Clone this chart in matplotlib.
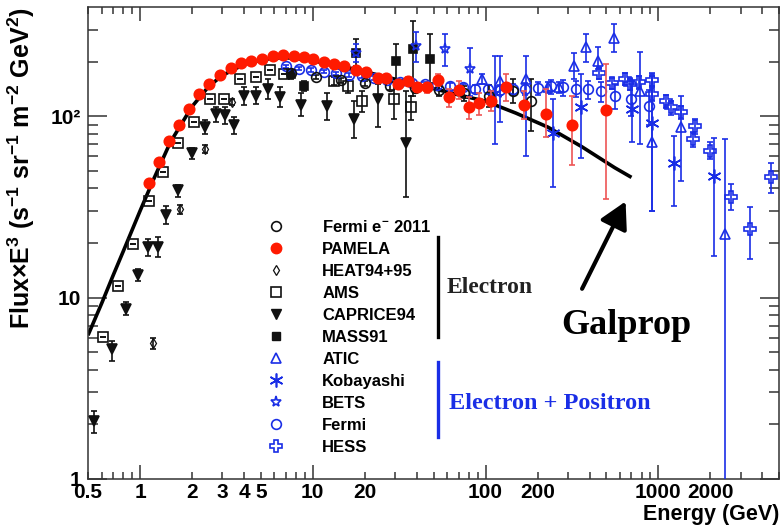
import matplotlib
matplotlib.use("Agg")
import matplotlib.pyplot as plt
import numpy as np
from matplotlib.lines import Line2D
from matplotlib.ticker import FixedLocator, FixedFormatter

plt.rcParams['font.family'] = ['Liberation Sans', 'DejaVu Sans']
plt.rcParams['font.weight'] = 'bold'
plt.rcParams['mathtext.fontset'] = 'custom'
plt.rcParams['mathtext.rm'] = 'Liberation Sans:bold'
plt.rcParams['mathtext.bf'] = 'Liberation Sans:bold'
plt.rcParams['mathtext.it'] = 'Liberation Sans:bold'

# ---------------- data: energy (GeV), E^3 x flux, error-bar ends ----------------
galprop_E = [0.5, 0.6, 0.7, 0.8, 1.0, 1.2, 1.5, 2.0, 2.5, 3.0, 4.0, 5.0, 6.0, 7.0,
             8.0, 10, 15, 20, 30, 50, 70, 100, 150, 230, 360, 560, 700]
galprop_F = [6.2, 9.3, 13.3, 18, 30, 45, 72, 113, 146, 168, 193, 204, 209, 210,
             208, 202, 188, 176, 160, 142, 131, 121, 104, 87, 68, 52, 46]

pamela_E = [1.13, 1.29, 1.47, 1.69, 1.93, 2.20, 2.52, 2.92, 3.38, 3.86, 4.42, 5.11,
            5.85, 6.77, 7.77, 8.86, 10.1, 11.6, 13.2, 15.1, 17.8, 20.3, 23.9, 26.6,
            31.2, 35.7, 40.2, 46.0, 53.3, 61.8, 70.6, 80.7, 92.3, 108, 132, 166,
            223, 316, 499]
pamela_F = [43, 56, 73, 90, 109, 132, 150, 168, 184, 196, 201, 206, 214, 217, 214,
            213, 206, 200, 193, 188, 180, 175, 162, 163, 150, 156, 144, 144, 158,
            127, 140, 112, 119, 122, 144, 116, 103, 89, 108]
pamela_lo = [42, 54, 71, 88, 106, 128, 146, 163, 179, 191, 196, 201, 209, 212, 209,
             207, 200, 194, 187, 182, 174, 169, 156, 157, 144, 148, 136, 135, 146,
             112, 124, 96, 102, 107, 121, 96, 77, 54, 35]
pamela_hi = [44, 58, 75, 92, 112, 136, 154, 173, 189, 201, 206, 211, 219, 222, 219,
             219, 212, 206, 199, 194, 186, 181, 168, 169, 156, 165, 152, 153, 170,
             141, 156, 127, 135, 138, 170, 138, 141, 129, 193]

ams_E = [0.612, 0.748, 0.914, 1.128, 1.366, 1.67, 2.06, 2.53, 3.08, 3.78, 4.72, 5.64,
         6.81, 13.3, 15.9, 19.4, 29.6, 36.8]
ams_F = [6.1, 11.6, 19.7, 34.1, 49, 71, 93, 125, 125, 161, 165, 179, 170, 156, 146,
         121, 125, 112]
ams_lo = [6.1, 11.6, 19.7, 34.1, 49, 71, 93, 125, 125, 161, 165, 179, 170, 148, 135,
          105, 96, 95]
ams_hi = [6.1, 11.6, 19.7, 34.1, 49, 71, 93, 125, 125, 161, 165, 179, 170, 164, 158,
          138, 154, 130]

caprice_E = [0.543, 0.685, 0.826, 0.97, 1.117, 1.267, 1.416, 1.67, 2.01, 2.385, 2.77,
             3.12, 3.49, 4.02, 4.72, 5.5, 6.5, 8.6, 12.07, 17.3, 23.9, 34.7]
caprice_F = [2.1, 5.2, 8.7, 13.3, 18.9, 18.9, 28.5, 39, 62.5, 87.3, 102.6, 101, 89,
             129, 130, 141, 127, 116, 114, 97, 124, 71]
caprice_lo = [1.79, 4.46, 8.0, 12.3, 17, 16.8, 25.5, 36, 58, 80, 93, 91, 80, 115, 117,
              125, 112, 100, 95, 76, 87, 36]
caprice_hi = [2.36, 5.8, 9.5, 14.3, 21, 21.5, 32, 42, 67, 95, 113, 112, 99, 145, 145,
              160, 145, 135, 135, 121, 150, 138]

heat_E = [1.195, 1.71, 2.39, 3.41]
heat_F = [5.6, 30.8, 66, 120]
heat_lo = [5.2, 29, 63, 115]
heat_hi = [6.0, 32.5, 69, 125]

mass_E = [7.45, 8.9, 17.8, 30.5, 38.0, 47.5]
mass_F = [170, 146, 224, 202, 236, 208]
mass_lo = [160, 137, 189, 147, 129, 153]
mass_hi = [180, 156, 265, 249, 335, 283]

fermi11_E = [7.5, 10.4, 14.5, 20, 28, 39, 54, 75, 105, 145, 183]
fermi11_F = [172, 165, 158, 152, 147, 143, 139, 134, 130, 138, 122]
fermi11_lo = [168, 161, 153, 147, 140, 135, 129, 122, 112, 118, 83]
fermi11_hi = [176, 169, 163, 157, 154, 151, 149, 146, 148, 160, 160]

atic_E = [95, 121, 171, 229, 268, 324, 381, 448, 552, 779, 914, 1361, 2430]
atic_F = [160, 156, 160, 144, 144, 189, 242, 202, 271, 138, 72, 87, 22.5]
atic_lo = [150, 93, 60, 134, 134, 160, 198, 181, 225, 70, 30, 44, 0.5]
atic_hi = [170, 214, 214, 155, 155, 224, 283, 240, 321, 225, 167, 129, 75]

kobayashi_E = [113, 245, 355, 706, 914, 1239, 2106]
kobayashi_F = [135, 81, 112, 110, 92, 55, 47]
kobayashi_lo = [70, 40.6, 59, 72, 30, 32, 17]
kobayashi_hi = [214, 124, 170, 156, 167, 78, 76]

bets_E = [17.8, 39.8, 58, 81]
bets_F = [224, 244, 234, 181]
bets_lo = [200, 200, 189, 129]
bets_hi = [250, 290, 283, 239]

fermi_E = [7.0, 8.3, 9.8, 11.6, 13.7, 16.2, 19.2, 22.7, 26.9, 31.8, 37.6, 44.5, 52.6,
           62.2, 73.6, 87.0, 103, 122, 144, 170, 201, 238, 281, 333, 394, 466, 565,
           700, 883]
fermi_F = [188, 183, 180, 176, 172, 169, 166, 162, 158, 155, 152, 150, 148, 146, 144,
           142, 141, 140, 141, 142, 143, 146, 144, 142, 141, 137, 129, 125, 114]
fermi_lo = [184, 179, 176, 172, 168, 165, 162, 158, 154, 151, 148, 145, 143, 140, 138,
            135, 133, 131, 131, 131, 131, 133, 130, 127, 125, 120, 110, 100, 90]
fermi_hi = [192, 187, 184, 180, 176, 173, 170, 166, 162, 159, 156, 155, 153, 152, 150,
            149, 149, 149, 151, 153, 155, 159, 158, 157, 157, 155, 150, 150, 140]

hess_E = [452, 540, 645, 690, 774, 914, 920, 1104, 1193, 1360, 1585, 1630, 2000,
          2630, 3410, 4520]
hess_F = [172, 152, 160, 150, 154, 159, 133, 121, 112, 105, 75, 88, 64, 36, 24, 46]
hess_lo = [160, 141, 148, 139, 142, 146, 122, 111, 102, 96, 68, 80, 58, 30.5, 16.3,
           37.6]
hess_hi = [185, 163, 172, 161, 166, 172, 144, 131, 122, 114, 82, 97, 72, 42.4, 31.4,
           55]

legend_labels = ['Fermi e$^{-}$ 2011', 'PAMELA', 'HEAT94+95', 'AMS', 'CAPRICE94',
                 'MASS91', 'ATIC', 'Kobayashi', 'BETS', 'Fermi', 'HESS']

x_major = [1, 10, 100, 1000]
x_minor = [0.5, 0.6, 0.7, 0.8, 0.9, 2, 3, 4, 5, 6, 7, 8, 9, 20, 30, 40, 50, 60, 70,
           80, 90, 200, 300, 400, 500, 600, 700, 800, 900, 2000, 3000, 4000, 5000]
x_minor_labeled = {0.5: '0.5', 2: '2', 3: '3', 4: '4', 5: '5', 20: '20', 200: '200',
                   2000: '2000'}
y_major = [1, 10, 100]
y_major_labels = ['1', '10', '10²']

# ---------------- figure ----------------
W, H = 781, 527
fig = plt.figure(figsize=(W / 100, H / 100), dpi=100)
L, R, T, B = 88, 779, 7, 479
ax = fig.add_axes([L / W, 1 - B / H, (R - L) / W, (B - T) / H])
ax.set_xscale('log')
ax.set_yscale('log')
ax.set_xlim(0.5, 5000)
ax.set_ylim(1, 400)

BLACK = '#111111'
BLUE = '#1a2ee6'
RED = '#ff1a00'
RED_BAR = '#ee5555'


def series(E, F, lo, hi, marker, color, mfc, ms, ecolor=None, mew=1.2, z=3, elw=1.2):
    E = np.asarray(E, float)
    F = np.asarray(F, float)
    lo = np.asarray(lo, float)
    hi = np.asarray(hi, float)
    ax.errorbar(E, F, yerr=[F - lo, hi - F], fmt='none', ecolor=ecolor or color,
                elinewidth=elw, capsize=2.5, capthick=elw, zorder=z - 0.5)
    ax.plot(E, F, ls='none', marker=marker, color=color, mfc=mfc, mec=color, ms=ms,
            mew=mew, zorder=z)


ax.plot(galprop_E, galprop_F, color='black', lw=2.6, zorder=2, solid_capstyle='butt')

series(caprice_E, caprice_F, caprice_lo, caprice_hi, 'v', BLACK, BLACK, 6.5)
series(ams_E, ams_F, ams_lo, ams_hi, 's', BLACK, 'none', 7)
series(heat_E, heat_F, heat_lo, heat_hi, 'd', BLACK, 'none', 5, mew=0.9)
series(mass_E, mass_F, mass_lo, mass_hi, 's', BLACK, BLACK, 6)
series(kobayashi_E, kobayashi_F, kobayashi_lo, kobayashi_hi, (6, 2, 0), BLUE, 'none',
       10, z=3.1)
series(fermi_E, fermi_F, fermi_lo, fermi_hi, 'o', BLUE, 'none', 7, z=3.2)
series(atic_E, atic_F, atic_lo, atic_hi, '^', BLUE, 'none', 7.5, z=3.3)
series(bets_E, bets_F, bets_lo, bets_hi, '*', BLUE, 'none', 8, z=3.4)
series(hess_E, hess_F, hess_lo, hess_hi, 'P', BLUE, 'none', 8, z=3.4)
series(fermi11_E, fermi11_F, fermi11_lo, fermi11_hi, 'o', BLACK, 'none', 7, z=3.5)
series(pamela_E, pamela_F, pamela_lo, pamela_hi, 'o', RED, RED, 7.5, ecolor=RED_BAR,
       z=4)

# ---------------- axes styling ----------------
for sp in ax.spines.values():
    sp.set_color('#333333')
    sp.set_linewidth(1.1)

ax.xaxis.set_major_locator(FixedLocator(x_major))
ax.xaxis.set_major_formatter(FixedFormatter([str(v) for v in x_major]))
ax.xaxis.set_minor_locator(FixedLocator(x_minor))
ax.xaxis.set_minor_formatter(FixedFormatter([x_minor_labeled.get(v, '') for v in x_minor]))
ax.yaxis.set_major_locator(FixedLocator(y_major))
ax.yaxis.set_major_formatter(FixedFormatter(y_major_labels))
ax.yaxis.set_minor_locator(FixedLocator([v * d for d in (1, 10, 100) for v in range(2, 10)
                                          if v * d < 400]))
ax.yaxis.set_minor_formatter(FixedFormatter([]))

ax.tick_params(axis='x', which='both', direction='in', top=True, bottom=True,
               labelsize=15, pad=3, colors='#333333', labelcolor='black', width=1.1)
ax.tick_params(axis='x', which='major', length=10)
ax.tick_params(axis='x', which='minor', length=5)
ax.tick_params(axis='y', which='both', direction='in', left=True, right=True,
               labelsize=15, pad=5, colors='#333333', labelcolor='black', width=1.1)
ax.tick_params(axis='y', which='major', length=14)
ax.tick_params(axis='y', which='minor', length=7.5)
for lab in ax.get_xticklabels(which='both') + ax.get_yticklabels():
    lab.set_fontweight('bold')

ax.set_ylabel('Flux×E$^{3}$ (s$^{-1}$ sr$^{-1}$ m$^{-2}$ GeV$^{2}$)', fontsize=18,
              fontweight='bold', loc='top')
ax.yaxis.set_label_coords(-(L - 37) / (R - L), 1.0)
ax.set_xlabel('Energy (GeV)', fontsize=15.5, fontweight='bold', loc='right')
ax.xaxis.set_label_coords(1.0, -(504 - B) / (B - T))

# ---------------- legend ----------------
handles = [
    Line2D([], [], ls='none', marker='o', color=BLACK, mfc='none', ms=7, mew=1.2),
    Line2D([], [], ls='none', marker='o', color=RED, mfc=RED, ms=7.5),
    Line2D([], [], ls='none', marker='d', color=BLACK, mfc='none', ms=5, mew=0.9),
    Line2D([], [], ls='none', marker='s', color=BLACK, mfc='none', ms=7, mew=1.2),
    Line2D([], [], ls='none', marker='v', color=BLACK, mfc=BLACK, ms=6.5),
    Line2D([], [], ls='none', marker='s', color=BLACK, mfc=BLACK, ms=6),
    Line2D([], [], ls='none', marker='^', color=BLUE, mfc='none', ms=7.5, mew=1.2),
    Line2D([], [], ls='none', marker=(6, 2, 0), color=BLUE, mfc='none', ms=10, mew=1.2),
    Line2D([], [], ls='none', marker='*', color=BLUE, mfc='none', ms=8, mew=1.2),
    Line2D([], [], ls='none', marker='o', color=BLUE, mfc='none', ms=7, mew=1.2),
    Line2D([], [], ls='none', marker='P', color=BLUE, mfc='none', ms=8, mew=1.2),
]
leg = ax.legend(handles, legend_labels, loc='upper left',
                bbox_to_anchor=(259 / W, 1 - 219 / H), bbox_transform=fig.transFigure,
                frameon=False, handlelength=2.0, handletextpad=1.8, labelspacing=0.42,
                borderpad=0, borderaxespad=0,
                prop={'size': 12, 'weight': 'bold', 'family': 'Liberation Sans'})

# ---------------- annotations ----------------
ax.plot([0.507, 0.507], [0.301, 0.513], transform=ax.transAxes, color='black', lw=2.4)
ax.plot([0.507, 0.507], [0.089, 0.248], transform=ax.transAxes, color=BLUE, lw=2.4)
ax.text(0.519, 0.405, 'Electron', transform=ax.transAxes, va='center', ha='left',
        fontsize=17, fontweight='bold', family='Liberation Serif', color='#222222')
ax.text(0.523, 0.161, 'Electron + Positron', transform=ax.transAxes, va='center',
        ha='left', fontsize=17.5, fontweight='bold', family='Liberation Serif', color=BLUE)
ax.text(0.685, 0.326, 'Galprop', transform=ax.transAxes, va='center', ha='left',
        fontsize=26, fontweight='bold', family='Liberation Serif', color='black')
ax.annotate('', xy=(0.778, 0.588), xytext=(0.715, 0.403), xycoords='axes fraction',
            arrowprops=dict(arrowstyle='-|>,head_length=1.0,head_width=0.55',
                            mutation_scale=16, lw=3, color='black', shrinkA=0, shrinkB=0))

fig.savefig('out.png', dpi=100)
